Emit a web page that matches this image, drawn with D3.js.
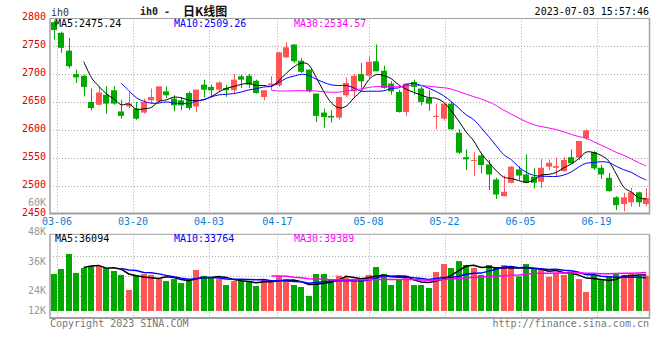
<!DOCTYPE html>
<html><head><meta charset="utf-8">
<script src="https://cdn.jsdelivr.net/npm/d3@7"></script>
<style>
body{margin:0;background:#fff}
svg{display:block}
text{font-family:"DejaVu Sans Mono",monospace;font-size:10px}
</style>
</head><body>
<svg id="chart" width="660" height="360"></svg>
<script>
// ---------------- data ----------------
const dates = [
"03-06","03-07","03-08","03-09","03-10","03-13","03-14","03-15","03-16","03-17",
"03-20","03-21","03-22","03-23","03-24","03-27","03-28","03-29","03-30","03-31",
"04-03","04-04","04-06","04-07","04-10","04-11","04-12","04-13","04-14",
"04-17","04-18","04-19","04-20","04-21","04-24","04-25","04-26","04-27","04-28",
"05-04","05-05","05-08","05-09","05-10","05-11","05-12","05-15","05-16","05-17","05-18","05-19",
"05-22","05-23","05-24","05-25","05-26","05-29","05-30","05-31","06-01","06-02",
"06-05","06-06","06-07","06-08","06-09","06-12","06-13","06-14","06-15","06-16",
"06-19","06-20","06-21","06-26","06-27","06-28","06-29","06-30","07-03"];
const open  = [2793,2774,2742,2700,2697,2650,2645,2663,2671,2633,2642,2638,2631,2653,2651,2669,2656,2653,2666,2642,
               2681,2677,2672,2675,2671,2696,2697,2688,2659,2680,2680,2730,2753,2724,2708,2665,2631,2625,2622,2662,
               2669,2700,2697,2723,2706,2683,2668,2632,2686,2674,2657,2623,2620,2647,2595,2551,2545,2554,2538,2511,
               2481,2505,2529,2520,2516,2507,2534,2532,2526,2551,2550,2585,2560,2532,2514,2479,2467,2470,2488,2467];
const high  = [2796,2776,2765,2708,2699,2674,2678,2678,2678,2654,2669,2650,2656,2674,2678,2678,2662,2659,2669,2672,
               2690,2681,2687,2681,2700,2699,2700,2690,2671,2696,2740,2757,2753,2729,2708,2665,2638,2635,2659,2694,
               2700,2720,2732,2753,2715,2687,2672,2684,2690,2677,2671,2647,2647,2650,2601,2565,2560,2559,2546,2514,
               2518,2535,2535,2556,2531,2548,2547,2550,2551,2565,2580,2601,2562,2537,2523,2481,2487,2496,2489,2495];
const low   = [2762,2738,2710,2684,2660,2635,2644,2629,2645,2620,2639,2618,2629,2647,2650,2657,2633,2635,2635,2632,
               2658,2658,2669,2659,2665,2675,2675,2665,2653,2671,2677,2729,2720,2702,2667,2614,2604,2613,2618,2659,
               2659,2674,2693,2705,2674,2663,2631,2625,2663,2644,2634,2601,2617,2600,2557,2528,2517,2522,2492,2476,
               2481,2504,2510,2504,2495,2496,2528,2516,2525,2539,2546,2582,2528,2512,2489,2456,2454,2462,2462,2463];
const close = [2779,2747,2714,2694,2677,2639,2667,2647,2647,2625,2647,2620,2650,2659,2678,2662,2644,2644,2639,2672,
               2672,2671,2685,2671,2690,2690,2681,2666,2671,2683,2739,2748,2723,2704,2669,2625,2623,2622,2659,2684,
               2697,2687,2722,2705,2675,2669,2632,2683,2677,2650,2647,2625,2647,2601,2559,2547,2546,2537,2520,2484,
               2489,2534,2518,2505,2505,2532,2541,2535,2546,2540,2580,2599,2531,2520,2490,2465,2479,2488,2470,2478];
const volume = [30800,32800,38900,31200,33200,34000,34000,33200,32000,30400,24300,30400,30800,30400,28700,27900,28700,27100,27900,32400,
                30000,29600,28700,26300,27900,27900,27900,25900,28700,27900,30000,28700,26300,25500,21900,30800,30800,28300,30100,29300,
                28300,28300,30400,33600,30800,26300,28700,30100,26300,26300,25100,31600,34800,33200,36000,34400,33200,30400,34400,33600,
                34400,33600,29800,34800,32800,32400,29600,31200,30400,31700,28700,23500,30400,28300,30000,30800,30400,30800,30000,30000];

const priceTicks = [2450,2500,2550,2600,2650,2700,2750,2800];
const volTicks   = [12000,24000,36000,48000,60000];
const volGrid    = [22000,30000,38000];
const dateTicks  = ["03-06","03-20","04-03","04-17","05-08","05-22","06-05","06-19"];
const maPeriods  = [5,10,30];
const maColors   = ["#000000","#0000ff","#ff00ff"];
const priceLegend = ["MA5:2475.24","MA10:2509.26","MA30:2534.57"];
const volLegend   = ["MA5:36094","MA10:33764","MA30:39389"];

// ---------------- layout ----------------
const L = 50, R = 649.5;
const pTop = 18.3, pBot = 213.5;
const vTop = 234.3, vBot = 318, vBase = 311;
const UP = "#ff5555", DOWN = "#00a800", GRID = "#aaaaaa", BORDER = "#a0a0a0";

const svg = d3.select("#chart");
const n = close.length;
const x = d3.scaleBand().domain(d3.range(n)).range([L, 650]);
const xc = i => x(i) + x.bandwidth() / 2;
const xg = d3.scaleLinear().domain([0, 10]).range([57, 133]);   // date grid positions
const yP = d3.scaleLinear().domain([2450, 2800]).range([pBot, pTop]);
const yV = d3.scaleLinear().domain([12000, 60000]).range([320.3, 201.9]);
const bw = Math.round(x.bandwidth() * 0.8);

const isUp = i => close[i] >= open[i];
const ma = (arr, p) => arr.map((_, i) => i < p - 1 ? null : d3.mean(arr.slice(i - p + 1, i + 1)));

// ---------------- grids ----------------
const g = svg.append("g");
const tickIdx = dateTicks.map(d => dates.indexOf(d));
[[pTop, pBot], [vTop, vBot]].forEach(([t, b]) => {
  g.selectAll(null).data(tickIdx).enter().append("line")
    .attr("x1", d => Math.round(xg(d)) + 0.5).attr("x2", d => Math.round(xg(d)) + 0.5)
    .attr("y1", t).attr("y2", b)
    .attr("stroke", GRID).attr("stroke-dasharray", "1,2");
});
g.selectAll(null).data(priceTicks.slice(1, -1)).enter().append("line")
  .attr("x1", L).attr("x2", R)
  .attr("y1", d => Math.round(yP(d)) + 0.5).attr("y2", d => Math.round(yP(d)) + 0.5)
  .attr("stroke", GRID).attr("stroke-dasharray", "1,2");
g.selectAll(null).data(volGrid).enter().append("line")
  .attr("x1", L).attr("x2", R)
  .attr("y1", d => Math.round(yV(d)) + 0.5).attr("y2", d => Math.round(yV(d)) + 0.5)
  .attr("stroke", GRID).attr("stroke-dasharray", "1,2");

// ---------------- candles ----------------
const cg = svg.append("g");
const idx = d3.range(n);
cg.selectAll("line.wick").data(idx).enter().append("line")
  .attr("x1", i => Math.round(xc(i) - bw / 2) + bw / 2 + 0.5)
  .attr("x2", i => Math.round(xc(i) - bw / 2) + bw / 2 + 0.5)
  .attr("y1", i => yP(high[i])).attr("y2", i => yP(low[i]))
  .attr("stroke", i => isUp(i) ? UP : DOWN).attr("stroke-width", 1);
cg.selectAll("rect.body").data(idx).enter().append("rect")
  .attr("x", i => Math.round(xc(i) - bw / 2))
  .attr("width", bw)
  .attr("y", i => yP(Math.max(open[i], close[i])))
  .attr("height", i => Math.max(1, yP(Math.min(open[i], close[i])) - yP(Math.max(open[i], close[i]))))
  .attr("fill", i => isUp(i) ? UP : DOWN);

// price MAs
maPeriods.forEach((p, k) => {
  const m = ma(close, p);
  const line = d3.line().defined(d => d != null).x((d, i) => xc(i)).y(d => yP(d)).curve(d3.curveCardinal);
  svg.append("path").datum(m).attr("d", line).attr("fill", "none")
    .attr("stroke", maColors[k]).attr("stroke-width", 1);
});

// ---------------- volume ----------------
svg.append("g").selectAll("rect").data(idx).enter().append("rect")
  .attr("x", i => Math.round(xc(i) - bw / 2))
  .attr("width", bw)
  .attr("y", i => yV(volume[i]))
  .attr("height", i => vBase - yV(volume[i]))
  .attr("fill", i => isUp(i) ? UP : DOWN);
maPeriods.forEach((p, k) => {
  const m = ma(volume, p);
  const line = d3.line().defined(d => d != null).x((d, i) => xc(i)).y(d => yV(d));
  svg.append("path").datum(m).attr("d", line).attr("fill", "none")
    .attr("stroke", maColors[k]).attr("stroke-width", 1.5);
});

// ---------------- borders ----------------
const bg = svg.append("g").attr("fill", "none").attr("stroke", BORDER);
bg.append("line").attr("x1", L).attr("x2", R).attr("y1", pTop + 0.2).attr("y2", pTop + 0.2);
bg.append("line").attr("x1", L).attr("x2", R).attr("y1", pBot).attr("y2", pBot).attr("stroke-width", 2);
bg.append("line").attr("x1", L).attr("x2", L).attr("y1", pTop).attr("y2", pBot + 1).attr("stroke-width", 1.5);
bg.append("line").attr("x1", R).attr("x2", R).attr("y1", pTop).attr("y2", pBot + 1).attr("stroke-width", 1.5);
bg.append("line").attr("x1", L).attr("x2", R).attr("y1", vTop).attr("y2", vTop);
bg.append("line").attr("x1", L).attr("x2", R).attr("y1", vBot).attr("y2", vBot).attr("stroke-width", 2);
bg.append("line").attr("x1", L).attr("x2", L).attr("y1", vTop).attr("y2", vBot + 1).attr("stroke-width", 1.5);
bg.append("line").attr("x1", R).attr("x2", R).attr("y1", vTop).attr("y2", vBot + 1).attr("stroke-width", 1.5);

// ---------------- axes text ----------------
svg.append("g").selectAll("text").data(priceTicks).enter().append("text")
  .attr("x", 46).attr("y", d => yP(d) + 2).attr("text-anchor", "end")
  .attr("fill", "#e00000").text(d => d);
svg.append("g").selectAll("text").data(volTicks).enter().append("text")
  .attr("x", 46).attr("y", d => Math.min(yV(d), vBase - 0.3) + 3.6).attr("text-anchor", "end")
  .attr("fill", "#999999").text(d => (d / 1000) + "K");
svg.append("g").selectAll("text").data(tickIdx).enter().append("text")
  .attr("x", d => xg(d)).attr("y", 225).attr("text-anchor", "middle")
  .attr("fill", "#0a80d0").text((d, i) => dateTicks[i]);

// legends
const lx = [55, 174, 294];
priceLegend.forEach((t, k) => svg.append("text").attr("x", lx[k]).attr("y", 26.5).attr("fill", maColors[k]).text(t));
volLegend.forEach((t, k) => svg.append("text").attr("x", lx[k]).attr("y", 242.3).attr("fill", maColors[k]).text(t));

// titles
svg.append("text").attr("x", 51).attr("y", 16).attr("fill", "#333").text("ih0");
svg.append("text").attr("x", 140).attr("y", 15).attr("fill", "#222").attr("font-weight", "bold").text("ih0 -");
svg.append("text").attr("x", 183).attr("y", 15.5).attr("fill", "#111")
  .style("font-family", "'Noto Sans CJK SC'").style("font-size", "12px").attr("font-weight", "bold").text("日K线图");
svg.append("text").attr("x", 649).attr("y", 15).attr("text-anchor", "end").attr("fill", "#000").text("2023-07-03 15:57:46");
svg.append("text").attr("x", 50).attr("y", 327).attr("fill", "#777").text("Copyright 2023 SINA.COM");
svg.append("text").attr("x", 649).attr("y", 327).attr("text-anchor", "end").attr("fill", "#777").text("http://finance.sina.com.cn");
</script>
</body></html>
